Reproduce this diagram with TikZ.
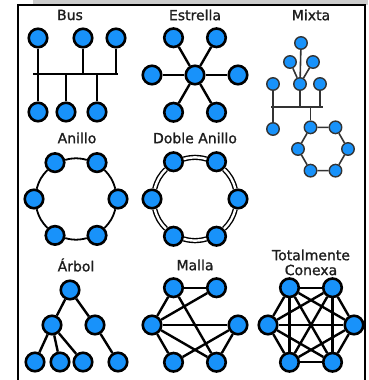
\documentclass[tikz,border=0pt]{standalone}
\usepackage{fontspec}
\setmainfont{DejaVu Sans}
\newfontfamily\capfont{DejaVu Sans}[BoldFont=DejaVu Sans, BoldFeatures={FakeBold=1.2}]
\usetikzlibrary{calc}
\definecolor{nodeblue}{RGB}{24,146,250}
\definecolor{inkgray}{RGB}{30,30,30}
\tikzset{
  hub/.style={circle, draw=black, fill=nodeblue, line width=2.6pt,
    minimum size=18.5pt, inner sep=0pt},
  minihub/.style={circle, draw=black!80, fill=nodeblue, line width=1.4pt,
    minimum size=12.5pt, inner sep=0pt},
  link/.style={line width=2.4pt},
  thinlink/.style={line width=1.6pt, draw=black!80},
  caption/.style={text=inkgray, font=\capfont\bfseries\fontsize{14}{15}\selectfont, inner sep=0pt}
}

\begin{document}
\begin{tikzpicture}[x=1pt, y=-1pt]
  \useasboundingbox (0,0) rectangle (368,380);
  \fill[gray!40] (33,0) rectangle (368,4.5);
  \draw[line width=2pt] (18,380) -- (18,5) -- (365,5) -- (365,380);

  % Bus
  \node[caption] (tbus) at (70,15) {Bus};
  \coordinate (bus) at (33,74);
  \coordinate (busend) at (118,74);
  \draw[link] (bus) -- (busend);
  \foreach \i/\x/\y in {1/38/38, 2/83/38, 3/116/38, 4/38/112, 5/66/112, 6/97/112}{
    \node[hub] (b\i) at (\x,\y) {};
    \draw[link] (b\i) -- (b\i |- bus);
  }

  % Estrella
  \node[caption] (tstar) at (195,15) {Estrella};
  \node[hub] (sc) at (195,75) {};
  \foreach \a in {0,60,...,300}{
    \node[hub] (s\a) at ($(sc)+(\a:43)$) {};
    \draw[link] (sc) -- (s\a);
  }

  % Mixta
  \node[caption] (tmix) at (311,15) {Mixta};
  \node[minihub] (m1) at (301,43) {};
  \node[minihub] (m2) at (290,62) {};
  \node[minihub] (m3) at (313,62) {};
  \node[minihub] (m4) at (273,84) {};
  \node[minihub] (m5) at (300,84) {};
  \node[minihub] (m6) at (320,84) {};
  \node[minihub] (m7) at (273,129) {};
  \coordinate (mbus) at (271,107);
  \coordinate (mbusend) at (323,107);
  \draw[thinlink] (mbus) -- (mbusend);
  \draw[thinlink] (m1) -- (m5) (m2) -- (m5) (m3) -- (m5);
  \foreach \i in {4,5,6,7} \draw[thinlink] (m\i) -- (m\i |- mbus);
  \coordinate (mring) at (323,149);
  \foreach \a in {0,60,...,300} \node[minihub] (r\a) at ($(mring)+(\a:25)$) {};
  \draw[thinlink] (r0) -- (r60) -- (r120) -- (r180) -- (r240) -- (r300) -- (r0);
  \draw[thinlink] (r240) -- (r240 |- mbus);

  % Anillo
  \node[caption] (tring) at (77,138) {Anillo};
  \coordinate (aring) at (76,199);
  \foreach \a in {0,60,...,300} \node[hub] (a\a) at ($(aring)+(\a:42)$) {};
  \foreach \a/\b in {0/60, 60/120, 120/180, 180/240, 240/300, 300/0}
    \draw[line width=1.8pt] (a\a) to[bend left=15] (a\b);

  % Doble Anillo
  \node[caption] (tdouble) at (195,138) {Doble Anillo};
  \coordinate (dring) at (195,199);
  \foreach \a in {0,60,...,300} \node[hub] (d\a) at ($(dring)+(\a:43)$) {};
  \foreach \a/\b in {0/60, 60/120, 120/180, 180/240, 240/300, 300/0}
    \draw[line width=1.4pt, double=white, double distance=2.4pt] (d\a) to[bend left=15] (d\b);

  % Arbol
  \node[caption] (ttree) at (76,265) {Árbol};
  \node[hub] (t1) at (70,290) {};
  \node[hub] (t2) at (52,325) {};
  \node[hub] (t3) at (95,325) {};
  \node[hub] (t4) at (35,362) {};
  \node[hub] (t5) at (60,362) {};
  \node[hub] (t6) at (83,362) {};
  \node[hub] (t7) at (118,362) {};
  \draw[link] (t1) -- (t2) (t1) -- (t3) (t2) -- (t4) (t2) -- (t5) (t2) -- (t6) (t3) -- (t7);

  % Malla
  \node[caption] (tmesh) at (195,265) {Malla};
  \coordinate (mesh) at (195,325);
  \foreach \a in {0,60,...,300} \node[hub] (g\a) at ($(mesh)+(\a:43)$) {};
  \foreach \a/\b in {240/300, 240/180, 300/180, 240/60, 180/0, 180/120, 180/60, 120/0, 0/60}
    \draw[link] (g\a) -- (g\b);

  % Totalmente conexa
  \node[caption] (tfull) at (311,255) {Totalmente};
  \node[caption] (tfull2) at (311,270) {Conexa};
  \coordinate (full) at (311,325);
  \foreach \i in {0,...,5} \node[hub] (k\i) at ($(full)+(\i*60:43)$) {};
  \foreach \i [evaluate=\i as \n using int(\i+1)] in {0,...,4}
    \foreach \j in {\n,...,5}
      \draw[link] (k\i) -- (k\j);
\end{tikzpicture}
\end{document}
